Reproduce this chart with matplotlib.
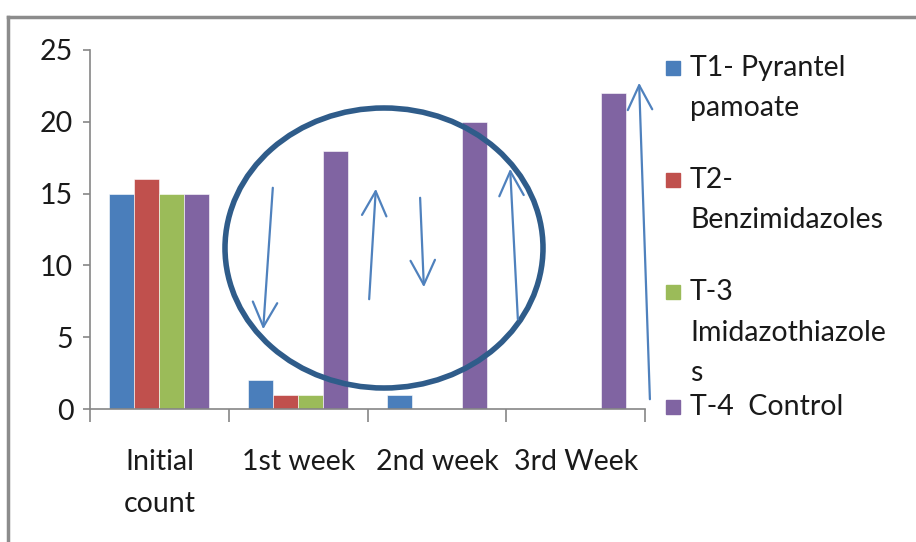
import matplotlib
matplotlib.use("Agg")
import matplotlib.pyplot as plt
import numpy as np
from matplotlib.patches import Ellipse, Rectangle
from matplotlib.lines import Line2D

categories = ["Initial\ncount", "1st week", "2nd week", "3rd Week"]
t1 = [15, 2, 1, 0]
t2 = [16, 1, 0, 0]
t3 = [15, 1, 0, 0]
t4 = [15, 18, 20, 22]
series = [t1, t2, t3, t4]
labels = [["T1- Pyrantel", "pamoate"], ["T2-", "Benzimidazoles"],
          ["T-3", "Imidazothiazole", "s"], ["T-4  Control"]]
colors = ["#4A7EBB", "#C0504D", "#9BBB59", "#8064A2"]
yticks = [0, 5, 10, 15, 20, 25]

plt.rcParams['font.family'] = ['Lato', 'DejaVu Sans']
W, H = 916, 542
fig = plt.figure(figsize=(W / 100, H / 100), dpi=100)

def fx(x):
    return x / W

def fy(y):
    return 1 - y / H

FS = 20.5
ax = fig.add_axes([fx(90), fy(409), fx(645) - fx(90), fy(50) - fy(409)])
x = np.arange(len(categories))
bw = 0.18
for i, (vals, c) in enumerate(zip(series, colors)):
    ax.bar(x + (i - 1.5) * bw, vals, width=bw, color=c, edgecolor='white', linewidth=0.4, zorder=2)

ax.set_xlim(-0.5, len(categories) - 0.5)
ax.set_ylim(0, 25)
ax.set_yticks(yticks)
ax.set_yticklabels([str(v) for v in yticks], fontsize=FS, color='#1a1a1a')
ax.set_xticks(x)
ax.set_xticklabels(categories, fontsize=FS, color='#1a1a1a', linespacing=1.75, va='top')
ax.set_xticks(np.arange(-0.5, len(categories), 1.0), minor=True)
ax.tick_params(axis='x', which='major', length=0, pad=29)
ax.tick_params(axis='x', which='minor', length=9.5, width=1.2, color='#868686')
ax.tick_params(axis='y', length=5, width=1.2, color='#868686', pad=7)
for s in ['top', 'right']:
    ax.spines[s].set_visible(False)
for s in ['left', 'bottom']:
    ax.spines[s].set_color('#868686')
    ax.spines[s].set_linewidth(1.2)

# outer chart frame
fig.add_artist(Line2D([fx(8), 1.0], [fy(17), fy(17)], color='#8c8c8c', lw=2.5, transform=fig.transFigure))
fig.add_artist(Line2D([fx(8), fx(8)], [fy(17), 0.0], color='#8c8c8c', lw=2.5, transform=fig.transFigure))

# legend
leg_y = [[68, 108], [180, 220], [292, 333, 373], [407]]
for c, labs, ys in zip(colors, labels, leg_y):
    fig.add_artist(Rectangle((fx(666), fy(ys[0] + 7)), fx(14), fy(ys[0] - 7) - fy(ys[0] + 7),
                             color=c, transform=fig.transFigure))
    for lab, yy in zip(labs, ys):
        fig.text(fx(690), fy(yy), lab, fontsize=FS, color='#1a1a1a', va='center', ha='left')

# annotations: ellipse and arrows
fig.add_artist(Ellipse((fx(384), fy(248)), fx(318), fy(108) - fy(388), fill=False,
                       edgecolor='#2F5C8A', lw=4, transform=fig.transFigure, zorder=5))
arrows = [((273, 185), (263, 332)), ((369, 302), (376, 186)), ((420, 195), (424, 290)),
          ((518, 322), (510, 166)), ((650, 402), (639, 80))]
for (x0, y0), (x1, y1) in arrows:
    fig.add_artist(matplotlib.patches.FancyArrowPatch(
        (fx(x0), fy(y0)), (fx(x1), fy(y1)), transform=fig.transFigure,
        arrowstyle='->,head_length=11,head_width=5.5', mutation_scale=1.6,
        color='#4F81BD', lw=1.6, zorder=6))

fig.savefig("out.png", dpi=100)
